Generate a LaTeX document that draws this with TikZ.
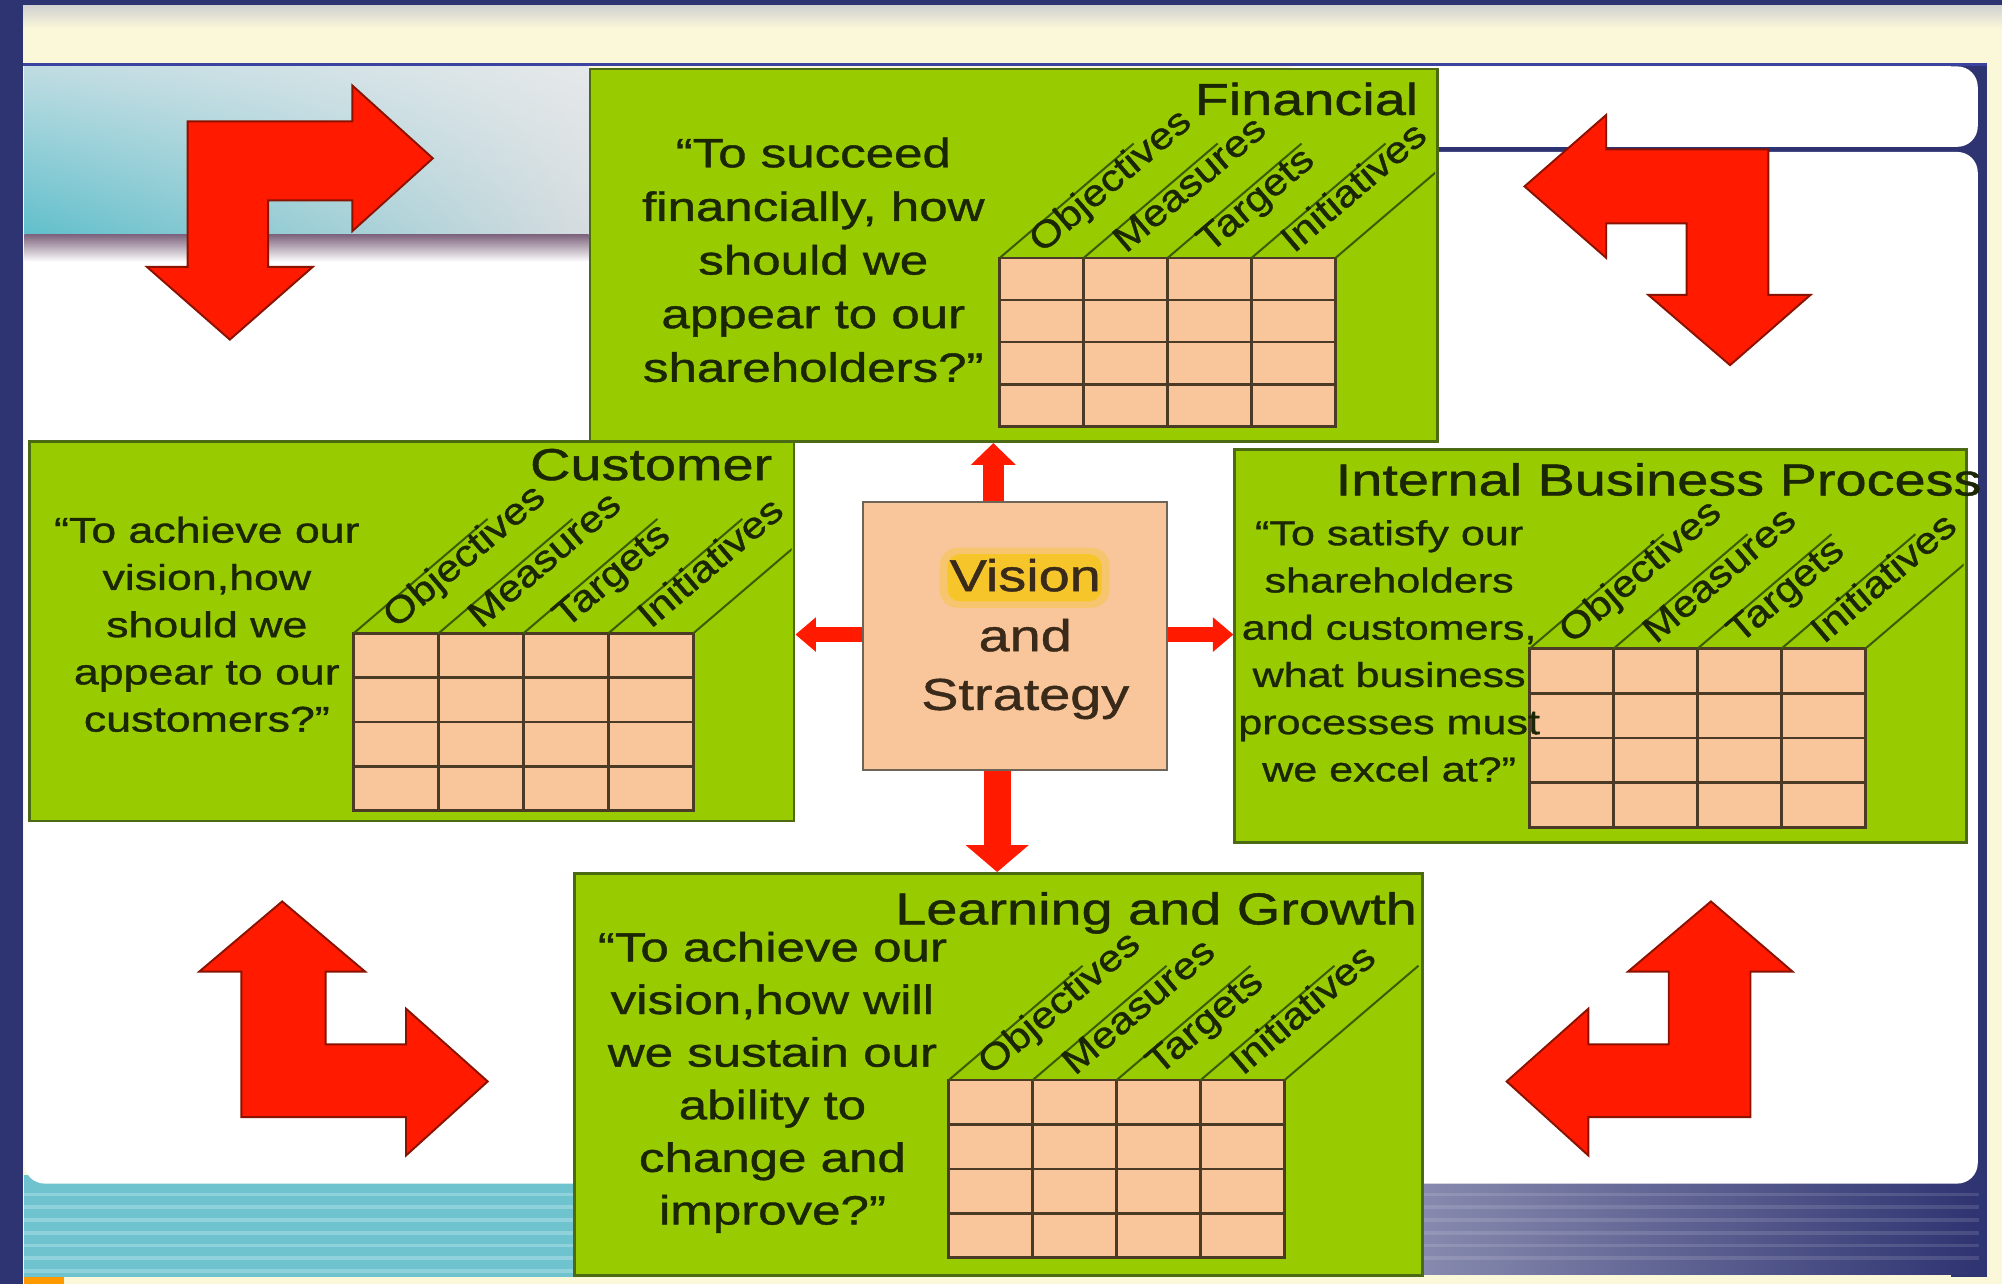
\documentclass[tikz,border=0pt]{standalone}
\usepackage{fontspec}
\setmainfont{Liberation Sans}[FakeStretch=1.25, FakeBold=1]
\newfontfamily\slfont{Liberation Sans}[FakeStretch=1.15, FakeBold=1]
\usetikzlibrary{arrows.meta,shadings}
\definecolor{cream}{HTML}{FBF7D9}
\definecolor{navy}{HTML}{2E3371}
\definecolor{bline}{HTML}{3A44A0}
\definecolor{bscgreen}{HTML}{99CC00}
\definecolor{bscedge}{HTML}{4C6A14}
\definecolor{peach}{HTML}{F9C59A}
\definecolor{gridc}{HTML}{4A3A26}
\definecolor{slantc}{HTML}{3D5C06}
\definecolor{qcol}{HTML}{1B2605}
\definecolor{vcol}{HTML}{3A2A1A}
\definecolor{arrred}{HTML}{FF1A00}
\definecolor{arredge}{HTML}{8A1200}
\definecolor{tealb}{HTML}{6EC3CF}
\definecolor{teall}{HTML}{8FD2DB}
\definecolor{hilite}{HTML}{F6C61A}
\definecolor{vedge}{HTML}{6E6458}
\definecolor{tlA}{HTML}{BFDCE2}
\definecolor{tlB}{HTML}{E6E8EA}
\definecolor{tlC}{HTML}{5FBFCB}
\definecolor{tlD}{HTML}{D6DCDF}
\newcommand\qfontA{\fontsize{32}{36}\selectfont}
\newcommand\qfontB{\fontsize{28}{32}\selectfont}
\newcommand\qfontC{\fontsize{27}{31}\selectfont}
\newcommand\ttlfont{\fontsize{35}{40}\selectfont}
% #1 name prefix, #2 x0, #3 y0, #4 x1, #5 y1, #6 right clip of the slanted lines
\newcommand\bscTable[6]{%
  \fill[peach] (#2,#3) rectangle (#4,#5);
  \foreach \k in {1,2,3}{
    \draw[gridline] ({#2+(#4-#2)*\k/4},#3) -- ({#2+(#4-#2)*\k/4},#5);
    \draw[gridline] (#2,{#3+(#5-#3)*\k/4}) -- (#4,{#3+(#5-#3)*\k/4});
  }
  \draw[gridline] (#2,#3) rectangle (#4,#5);
  \begin{scope}
    \clip ({#2-40},{#3-160}) rectangle (#6,#5);
    \foreach \k in {0,...,4}
      \draw[slantline] ({#2+(#4-#2)*\k/4},#3) -- ++(-40.5:138);
  \end{scope}
  \foreach \lab [count=\k from 0] in {Objectives,Measures,Targets,Initiatives}
    \node[slantlab] (#1\k) at ({#2+(#4-#2)*\k/4+33},{#3-3}) {\lab};
}
\begin{document}
\begin{tikzpicture}[x=1pt,y=-1pt,
  panel/.style={draw=bscedge, line width=2pt, fill=bscgreen, inner sep=0pt, anchor=north west, rectangle},
  vbox/.style={draw=vedge, line width=2pt, fill=peach, inner sep=0pt, anchor=north west, rectangle},
  gridline/.style={draw=gridc, line width=2pt},
  slantline/.style={draw=slantc, line width=1.6pt},
  slantlab/.style={rotate=40.5, anchor=base west, inner sep=0pt, text=qcol, font=\slfont\fontsize{29}{32}\selectfont},
  qtext/.style={text=qcol, inner sep=0pt, anchor=base},
  ttl/.style={text=qcol, inner sep=0pt, font=\ttlfont},
  vtext/.style={text=vcol, inner sep=0pt, anchor=base, font=\ttlfont},
  bigarrow/.style={fill=arrred, draw=arredge, line width=1.5pt, line join=miter},
  redline/.style={draw=arrred}
]
\useasboundingbox (0,0) rectangle (1568,1006);
% background
\fill[cream] (0,0) rectangle (1568,1006);
\shade[top color=black!18, bottom color=cream] (18,4) rectangle (1568,22);
\fill[navy] (0,0) rectangle (1568,4);
\fill[navy] (0,0) rectangle (18,1006);
\fill[navy] (1528,50) rectangle (1556,1000);
\fill[navy] (1000,115) rectangle (1556,119);
\fill[bline] (18,49) rectangle (1556,52);
% bottom bands
\fill[tealb] (19,920) rectangle (470,1000);
\foreach \yy in {934,944,...,994} \fill[teall] (19,\yy) rectangle (470,{\yy+3});
\shade[left color=navy!55!white, right color=navy] (1090,920) rectangle (1556,998);
\foreach \yy in {934,944,...,990} \fill[white, opacity=0.12] (1090,\yy) rectangle (1550,{\yy+3});
\fill[orange!80!yellow] (19,1000) rectangle (50,1006);
% white panels
\fill[white, rounded corners=16pt] (1000,52) rectangle (1549,115);
\fill[white, rounded corners=16pt] (19,119) rectangle (1549,927);
% top-left decoration
\shade[upper left=tlA, upper right=tlB, lower left=tlC, lower right=tlD] (19,52) rectangle (461,184);
\shade[top color=gray!80!violet, bottom color=white] (19,184) rectangle (461,205);

% big bent arrows
\draw[bigarrow] (147,95) -- (276,95) -- (276,67) -- (339,124) -- (276,181) -- (276,157) -- (210,157) -- (210,209) -- (245,209) -- (180,266) -- (115,209) -- (147,209) -- cycle;
\draw[bigarrow] (1385,117) -- (1258,117) -- (1258,90) -- (1194,146) -- (1258,202) -- (1258,175) -- (1321,175) -- (1321,231) -- (1291,231) -- (1355,286) -- (1418,231) -- (1385,231) -- cycle;
\draw[bigarrow] (189,875) -- (189,761) -- (156,761) -- (221,706) -- (286,761) -- (255,761) -- (255,818) -- (318,818) -- (318,790) -- (382,847) -- (318,905) -- (318,875) -- cycle;
\draw[bigarrow] (1371,875) -- (1371,761) -- (1404,761) -- (1340,706) -- (1275,761) -- (1307,761) -- (1307,818) -- (1244,818) -- (1244,790) -- (1180,847) -- (1244,905) -- (1244,875) -- cycle;

% panels
\node[panel, minimum width=664pt, minimum height=292pt] (fin) at (461,53) {};
\node[panel, minimum width=599pt, minimum height=297pt] (cus) at (22,345) {};
\node[panel, minimum width=573pt, minimum height=308pt] (ibp) at (966,351) {};
\node[panel, minimum width=664pt, minimum height=315pt] (lag) at (449,683) {};

% tables
\bscTable{fint}{783}{202}{1046}{334}{1124}
\bscTable{cust}{277}{496}{543}{635}{620}
\bscTable{ibpt}{1198}{508}{1461}{648}{1538}
\bscTable{lagt}{743}{846}{1006}{985}{1112}

% titles
\node[ttl, anchor=base east] (fintitle) at (1111,90) {Financial};
\node[ttl, anchor=base east] (custitle) at (605,376) {Customer};
\node[ttl, anchor=base west] (ibptitle) at (1046,388) {Internal Business Process};
\node[ttl, anchor=base east] (lagtitle) at (1110,724) {Learning and Growth};

% questions
\foreach \t [count=\i] in {{“To succeed},{financially, how},{should we},{appear to our},{shareholders?”}}
  \node[qtext, font=\qfontA] (finq\i) at (637,{131+42*(\i-1)}) {\t};
\foreach \t [count=\i] in {{“To achieve our},{vision,how},{should we},{appear to our},{customers?”}}
  \node[qtext, font=\qfontB] (cusq\i) at (162,{425+37*(\i-1)}) {\t};
\foreach \t [count=\i] in {{“To satisfy our},{shareholders},{and customers,},{what business},{processes must},{we excel at?”}}
  \node[qtext, font=\qfontC] (ibpq\i) at (1088,{427+37*(\i-1)}) {\t};
\foreach \t [count=\i] in {{“To achieve our},{vision,how will},{we sustain our},{ability to},{change and},{improve?”}}
  \node[qtext, font=\qfontA] (lagq\i) at (605,{753+41.2*(\i-1)}) {\t};

% vision box
\node[vbox, minimum width=238pt, minimum height=210pt] (vis) at (675,392) {};
\fill[hilite, rounded corners=14pt, opacity=0.35] (736,429) rectangle (869,476);
\fill[hilite, rounded corners=10pt, opacity=0.8] (742,434) rectangle (863,471);
\node[vtext] (v1) at (803,463) {Vision};
\node[vtext] (v2) at (803,510) {and};
\node[vtext] (v3) at (803,556) {Strategy};

% small connector arrows
\coordinate (upx) at (778,0);
\coordinate (dnx) at (781,0);
\coordinate (hy) at (0,497);
\draw[redline, line width=16pt, -{Triangle[width=34pt,length=17pt]}] (vis.north -| upx) -- (fin.south -| upx);
\draw[redline, line width=12pt, -{Triangle[width=26pt,length=16pt]}] (vis.west |- hy) -- (cus.east |- hy);
\draw[redline, line width=12pt, -{Triangle[width=26pt,length=16pt]}] (vis.east |- hy) -- (ibp.west |- hy);
\draw[redline, line width=21pt, -{Triangle[width=48pt,length=21pt]}] (vis.south -| dnx) -- (lag.north -| dnx);
\end{tikzpicture}
\end{document}
